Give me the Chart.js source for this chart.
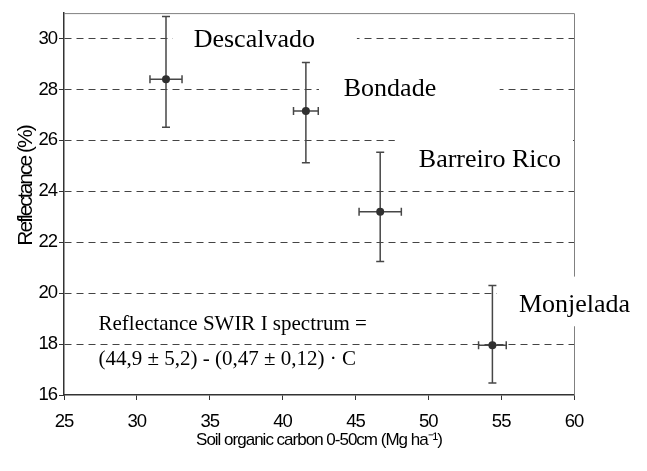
<!DOCTYPE html>
<html>
<head>
<meta charset="utf-8">
<script src="https://cdn.jsdelivr.net/npm/chart.js@4.4.1/dist/chart.umd.min.js"></script>
<style>
body{margin:0;background:#fff;}
#caixa{width:647px;height:471px;}
</style>
</head>
<body>
<div id="caixa"><canvas id="grafico"></canvas></div>
<script>
const locais = ["Descalvado","Bondade","Barreiro Rico","Monjelada"];
const carbono = [32.0, 41.6, 46.7, 54.4];
const erroCarbono = [1.1, 0.85, 1.45, 0.95];
const refletancia = [28.4, 27.15, 23.2, 17.95];
const erroAcima = [2.47, 1.91, 2.33, 2.35];
const erroAbaixo = [1.88, 2.03, 1.96, 1.48];

const ticksX = [25,30,35,40,45,50,55,60];
const ticksY = [16,18,20,22,24,26,28,30];

const equacao = ["Reflectance SWIR I spectrum =", "(44,9 ± 5,2) - (0,47 ± 0,12) · C"];
const tituloX = "Soil organic carbon 0-50cm (Mg ha⁻¹)";
const tituloY = "Reflectance (%)";

// onde vai cada nome (x esquerdo, linha de base) e a caixa branca atrás, em unidades dos eixos
const rotulos = [
{ x:33.9, y:29.65, caixa:[32.45, 45.1, 30.75, 29.1] },
{ x:44.2, y:27.73, caixa:[42.5, 54.9, 28.85, 26.9] },
{ x:49.35, y:24.94, caixa:[47.7, 59.93, 26.4, 24.3] },
{ x:56.22, y:19.27, caixa:[54.7, 66, 20.65, 18.7] }
];
const posEquacao = { x:27.37, y:[18.56, 17.18] };

const fonteSans = "'Liberation Sans', Arial, sans-serif";
const fonteSerif = "'Liberation Serif', 'Times New Roman', serif";

const anotacoes = {
id:"anotacoes",
beforeDraw(chart){
chart.ctx.letterSpacing = "-1px";
},
beforeDatasetsDraw(chart){

const ctx = chart.ctx;
const sx = chart.scales.x;
const sy = chart.scales.y;
const area = chart.chartArea;

ctx.letterSpacing = "0px";
ctx.save();

// moldura de cima e da direita
ctx.strokeStyle = "#808080";
ctx.lineWidth = 1;
ctx.beginPath();
ctx.moveTo(area.left, area.top + 0.5);
ctx.lineTo(area.right + 0.5, area.top + 0.5);
ctx.lineTo(area.right + 0.5, area.bottom);
ctx.stroke();

// caixas brancas e nomes
ctx.fillStyle = "#fff";
rotulos.forEach(r=>{
const [x1,x2,y1,y2] = r.caixa;
const px1 = sx.getPixelForValue(x1);
const py1 = sy.getPixelForValue(y1);
ctx.fillRect(px1, py1, sx.getPixelForValue(x2) - px1, sy.getPixelForValue(y2) - py1);
});

ctx.fillStyle = "#000";
ctx.font = "26px " + fonteSerif;
ctx.textAlign = "left";
ctx.textBaseline = "alphabetic";
locais.forEach((nome,i)=>{
ctx.fillText(nome, sx.getPixelForValue(rotulos[i].x), sy.getPixelForValue(rotulos[i].y));
});

ctx.font = "21px " + fonteSerif;
equacao.forEach((linha,i)=>{
ctx.fillText(linha, sx.getPixelForValue(posEquacao.x), sy.getPixelForValue(posEquacao.y[i]));
});

// barras de erro
ctx.strokeStyle = "#474747";
ctx.lineWidth = 1.5;
carbono.forEach((c,i)=>{
const px = sx.getPixelForValue(c);
const py = sy.getPixelForValue(refletancia[i]);
const top = sy.getPixelForValue(refletancia[i] + erroAcima[i]);
const base = sy.getPixelForValue(refletancia[i] - erroAbaixo[i]);
const esq = sx.getPixelForValue(c - erroCarbono[i]);
const dir = sx.getPixelForValue(c + erroCarbono[i]);
ctx.beginPath();
ctx.moveTo(px, top); ctx.lineTo(px, base);
ctx.moveTo(px - 4, top); ctx.lineTo(px + 4, top);
ctx.moveTo(px - 4, base); ctx.lineTo(px + 4, base);
ctx.moveTo(esq, py); ctx.lineTo(dir, py);
ctx.moveTo(esq, py - 4); ctx.lineTo(esq, py + 4);
ctx.moveTo(dir, py - 4); ctx.lineTo(dir, py + 4);
ctx.stroke();
});

// título do eixo y
ctx.letterSpacing = "-2px";
ctx.font = "21px " + fonteSans;
ctx.textAlign = "center";
ctx.translate(31.5, 186);
ctx.rotate(-Math.PI / 2);
ctx.fillText(tituloY, 0, 0);

ctx.restore();
ctx.letterSpacing = "0px";

}
};

new Chart(document.getElementById("grafico"), {
type:"scatter",
data:{
datasets:[{
label:tituloY,
data:carbono.map((c,i)=>({ x:c, y:refletancia[i] })),
backgroundColor:"#303030",
borderWidth:0,
pointRadius:4,
pointHoverRadius:4
}]
},
options:{
responsive:true,
maintainAspectRatio:false,
animation:false,
layout:{ padding:{ left:0, top:13, right:73, bottom:0 } },
plugins:{
legend:{ display:false },
tooltip:{ enabled:false }
},
scales:{
x:{
type:"linear",
min:25,
max:60,
afterBuildTicks: s => { s.ticks = ticksX.map(v => ({ value:v })); },
afterFit: s => { s.height = 76; },
grid:{ drawOnChartArea:false, drawTicks:true, tickLength:5, tickColor:"#333", tickWidth:1 },
border:{ color:"#333", width:1.5 },
ticks:{ font:{ family:fonteSans, size:18.5 }, color:"#000", padding:11, maxRotation:0 },
title:{ display:true, text:tituloX, font:{ family:fonteSans, size:17 }, color:"#000", padding:{ top:0, bottom:20 } }
},
y:{
type:"linear",
min:16,
max:31,
afterBuildTicks: s => { s.ticks = ticksY.map(v => ({ value:v })); },
afterFit: s => { s.width = 64; },
grid:{
color: c => (c.tick && c.tick.value === 16) ? "rgba(0,0,0,0)" : "#444",
lineWidth:1,
drawTicks:true,
tickLength:5,
tickColor:"#333"
},
border:{ color:"#333", width:1.5, dash:[7,5] },
ticks:{ font:{ family:fonteSans, size:18.5 }, color:"#000", padding:2 }
}
}
},
plugins:[anotacoes]
});
</script>
</body>
</html>
